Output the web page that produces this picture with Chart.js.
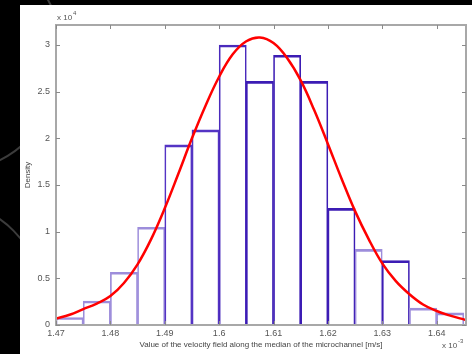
<!DOCTYPE html>
<html>
<head>
<meta charset="utf-8">
<script src="https://cdn.jsdelivr.net/npm/chart.js@4.4.1/dist/chart.umd.min.js"></script>
<style>
    html, body { margin: 0; padding: 0; background: #000; width: 472px; height: 354px; overflow: hidden; }
    .ring { position: absolute; border: 2px solid #3c3c3c; border-radius: 50%; }
    #panel { position: absolute; left: 20px; top: 5px; width: 452px; height: 349px; background: #fff; }
</style>
</head>
<body>
<div class="ring" style="left:-170px; top:-60px; width:230px; height:230px"></div>
<div class="ring" style="left:-160px; top:200px; width:200px; height:200px"></div>
<div id="panel"><canvas id="chart" width="452" height="349"></canvas></div>
<script>
// histogram bins (x in 1e-3 m/s, density in 1e4)
const binEdges = [1.57, 1.575, 1.58, 1.585, 1.59, 1.595, 1.60, 1.605, 1.61, 1.615, 1.62, 1.625, 1.63, 1.635, 1.64, 1.645]
const binValues = [0.08, 0.257, 0.565, 1.047, 1.93, 2.09, 3.0, 2.61, 2.89, 2.61, 1.25, 0.81, 0.69, 0.18, 0.13]

// fitted curve
const curveX = [1.57, 1.5725, 1.575, 1.5775, 1.58, 1.5825, 1.585, 1.5875, 1.59, 1.5925, 1.595,
    1.5975, 1.60, 1.6025, 1.605, 1.6075, 1.61, 1.6125, 1.615, 1.6175, 1.62, 1.6225, 1.625,
    1.6275, 1.63, 1.6325, 1.635, 1.6375, 1.64, 1.6425, 1.645, 1.6454]
const curveY = [0.07, 0.11, 0.17, 0.23, 0.31, 0.45, 0.65, 0.92, 1.25, 1.62, 2.00,
    2.35, 2.66, 2.90, 3.04, 3.08, 3.02, 2.86, 2.62, 2.30, 1.94, 1.57, 1.22,
    0.92, 0.66, 0.47, 0.33, 0.22, 0.15, 0.10, 0.06, 0.055]

const xTickValues = [1.57, 1.58, 1.59, 1.60, 1.61, 1.62, 1.63, 1.64]
const xTickLabels = ['1.47', '1.48', '1.49', '1.6', '1.61', '1.62', '1.63', '1.64']
const yTickValues = [0, 0.5, 1, 1.5, 2, 2.5, 3]
const yTickLabels = ['0', '0.5', '1', '1.5', '2', '2.5', '3']

const FONT = 'Liberation Sans, Arial, sans-serif'
const dark = '#3c1cb4'
const light = '#9d8ddb'
const barColors = [light, light, light, light, '#5434c4', '#5434c4', '#4a2abc', dark, dark, dark, dark, light, dark, light, light]

const binCenters = binValues.map((v, i) => (binEdges[i] + binEdges[i + 1]) / 2)

// MATLAB style box with inward ticks and exponent labels
const boxPlugin = {
    id: 'matlabBox',
    afterDraw(chart) {
        const { ctx, chartArea: a, scales: { x, y } } = chart
        ctx.save()
        ctx.strokeStyle = '#a8a8a8'
        ctx.lineWidth = 2
        ctx.strokeRect(a.left, a.top, a.right - a.left, a.bottom - a.top)
        ctx.lineWidth = 1
        ctx.strokeStyle = '#8a8a8a'
        const seg = (x1, y1, x2, y2) => { ctx.beginPath(); ctx.moveTo(x1, y1); ctx.lineTo(x2, y2); ctx.stroke() }
        xTickValues.forEach((v) => {
            const px = Math.round(x.getPixelForValue(v)) + 0.5
            seg(px, a.bottom, px, a.bottom - 4)
            seg(px, a.top, px, a.top + 4)
        })
        yTickValues.forEach((v) => {
            const py = Math.round(y.getPixelForValue(v)) + 0.5
            seg(a.left, py, a.left + 4, py)
            seg(a.right, py, a.right - 4, py)
        })
        ctx.fillStyle = '#555'
        ctx.font = '8px ' + FONT
        ctx.fillText('x 10', a.left + 1, a.top - 5)
        ctx.font = '6px ' + FONT
        ctx.fillText('4', a.left + 17, a.top - 10)
        ctx.font = '8px ' + FONT
        ctx.fillText('x 10', a.right - 24, a.bottom + 23)
        ctx.font = '6px ' + FONT
        ctx.fillText('-3', a.right - 8, a.bottom + 18)
        ctx.restore()
    }
}

const ctx = document.getElementById('chart').getContext('2d')

new Chart(ctx, {
    type: 'bar',
    data: {
        datasets: [
            {
                type: 'line',
                data: curveX.map((v, i) => ({ x: v, y: curveY[i] })),
                borderColor: '#ff0000',
                borderWidth: 2.5,
                pointRadius: 0,
                tension: 0.4,
                fill: false,
            },
            {
                type: 'bar',
                data: binCenters.map((v, i) => ({ x: v, y: binValues[i] })),
                backgroundColor: 'rgba(255,255,255,0)',
                borderColor: barColors,
                borderWidth: { top: 2, left: 1, right: 1, bottom: 0 },
                borderSkipped: 'bottom',
                barPercentage: 1,
                categoryPercentage: 1,
            },
        ],
    },
    options: {
        responsive: false,
        animation: false,
        layout: { padding: { top: 20, right: 6, left: 0, bottom: 0 } },
        plugins: {
            legend: { display: false },
            tooltip: { enabled: false },
        },
        scales: {
            x: {
                type: 'linear',
                offset: false,
                min: 1.57,
                max: 1.6454,
                grid: { display: false, drawTicks: false, tickLength: 0 },
                border: { display: false },
                afterBuildTicks: (scale) => { scale.ticks = xTickValues.map((v) => ({ value: v })) },
                afterFit: (scale) => { scale.height = 29 },
                ticks: {
                    autoSkip: false,
                    maxRotation: 0,
                    padding: 3,
                    color: '#555',
                    font: { family: FONT, size: 9 },
                    callback: (v, i) => xTickLabels[i],
                },
                title: {
                    display: true,
                    text: 'Value of the velocity field along the median of the microchannel [m/s]',
                    color: '#444',
                    font: { family: FONT, size: 8 },
                    padding: { top: 0, bottom: 4 },
                },
            },
            y: {
                min: 0,
                max: 3.214,
                grid: { display: false, drawTicks: false, tickLength: 0 },
                border: { display: false },
                afterBuildTicks: (scale) => { scale.ticks = yTickValues.map((v) => ({ value: v })) },
                afterFit: (scale) => { scale.width = 36 },
                ticks: {
                    padding: 6,
                    color: '#555',
                    font: { family: FONT, size: 9 },
                    callback: (v, i) => yTickLabels[i],
                },
                title: {
                    display: true,
                    text: 'Density',
                    color: '#444',
                    font: { family: FONT, size: 8 },
                    padding: { top: 3, bottom: 0 },
                },
            },
        },
    },
    plugins: [boxPlugin],
})
</script>
</body>
</html>
